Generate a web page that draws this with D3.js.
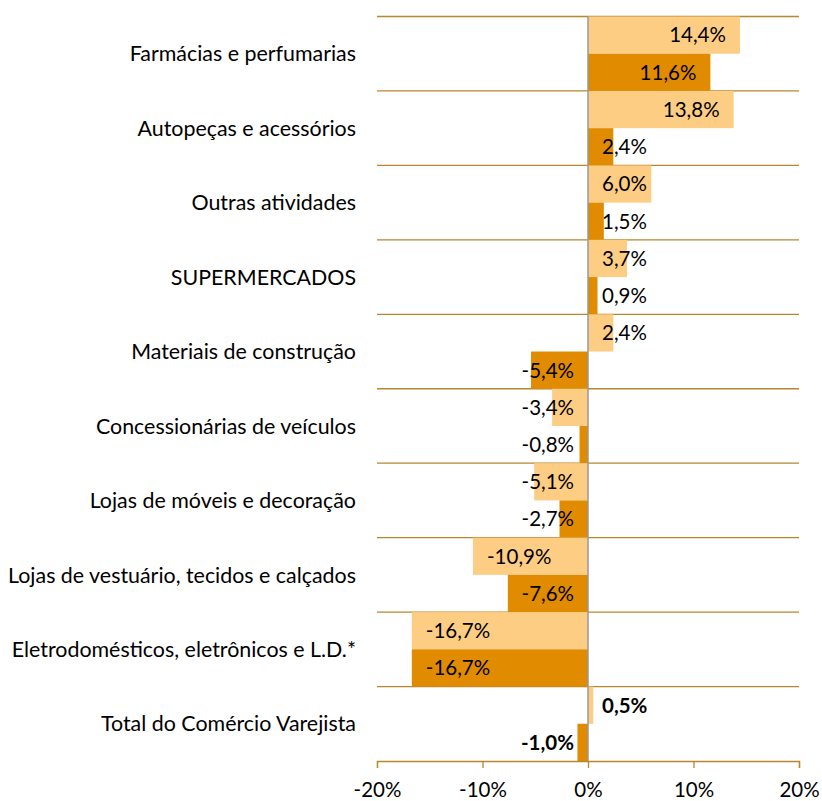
<!doctype html>
<html>
<head>
<script src="https://cdnjs.cloudflare.com/ajax/libs/d3/7.8.5/d3.min.js"></script>
<style>
body { margin: 0; background: #fff; }
text { font-family: Lato, "Open Sans", sans-serif; fill: #000; }
</style>
</head>
<body>
<svg id="chart" width="822" height="801"></svg>
<script>
var categories = ["Farmácias e perfumarias", "Autopeças e acessórios", "Outras atividades",
  "SUPERMERCADOS", "Materiais de construção", "Concessionárias de veículos",
  "Lojas de móveis e decoração", "Lojas de vestuário, tecidos e calçados",
  "Eletrodomésticos, eletrônicos e L.D.*", "Total do Comércio Varejista"];
var series1 = [14.4, 13.8, 6.0, 3.7, 2.4, -3.4, -5.1, -10.9, -16.7, 0.5];
var series2 = [11.6, 2.4, 1.5, 0.9, -5.4, -0.8, -2.7, -7.6, -16.7, -1.0];
var xTicks = [-20, -10, 0, 10, 20];

var svg = d3.select("#chart");
var plotLeft = 377, plotRight = 799, plotTop = 16.5, plotBottom = 761;
var fmt = d => d3.format(".1f")(d).replace("\u2212", "-").replace(".", ",") + "%";

var x = d3.scaleLinear().domain([-20, 20]).range([plotLeft, plotRight]);
var y = d3.scaleBand().domain(categories).range([plotTop, plotBottom]).padding(0);
var sub = d3.scaleBand().domain([0, 1]).range([0, y.bandwidth()]);

var rows = categories.map((c, i) => ({cat: c, vals: [series1[i], series2[i]], total: i == categories.length - 1}));
var colors = ["#FDCD84", "#E08B00"];
var gridColor = "#B8862C";

// gridlines at band boundaries
svg.selectAll("line.grid")
  .data(categories)
  .enter().append("line")
  .attr("class", "grid")
  .attr("x1", plotLeft).attr("x2", plotRight)
  .attr("y1", d => y(d)).attr("y2", d => y(d))
  .style("stroke", gridColor).style("stroke-width", 1.3);

var g = svg.selectAll("g.row")
  .data(rows)
  .enter().append("g")
  .attr("class", "row")
  .attr("transform", d => "translate(0," + y(d.cat) + ")");

g.selectAll("rect")
  .data(d => d.vals.map((v, j) => ({v: v, j: j, total: d.total})))
  .enter().append("rect")
  .attr("x", d => x(Math.min(0, d.v)))
  .attr("width", d => Math.abs(x(d.v) - x(0)))
  .attr("y", d => sub(d.j))
  .attr("height", sub.bandwidth())
  .style("fill", d => colors[d.j]);

// labels sit inside the bar end, but never closer than 14px to the zero line
g.selectAll("text.val")
  .data(d => d.vals.map((v, j) => ({v: v, j: j, total: d.total})))
  .enter().append("text")
  .attr("class", "val")
  .attr("y", d => sub(d.j) + sub.bandwidth() / 2)
  .attr("dy", "0.36em")
  .style("font-size", "20.5px")
  .style("font-weight", d => d.total ? "bold" : "normal")
  .text(d => fmt(d.v))
  .each(function(d) {
    var tw = this.getComputedTextLength();
    var xs;
    if (d.v >= 0) {
      xs = Math.max(x(d.v) - 14 - tw, x(0) + 14);
    } else {
      xs = Math.min(x(d.v) + 14, x(0) - 14 - tw);
    }
    d3.select(this).attr("x", xs);
  });

// category labels
svg.selectAll("text.cat")
  .data(categories)
  .enter().append("text")
  .attr("class", "cat")
  .attr("x", 356)
  .attr("y", d => y(d) + y.bandwidth() / 2)
  .attr("dy", "0.36em")
  .attr("text-anchor", "end")
  .style("font-size", "21.4px")
  .text(d => d);

// bottom axis
var axis = svg.append("g").attr("transform", "translate(0," + plotBottom + ")")
  .call(d3.axisBottom(x).tickValues(xTicks).tickSize(7).tickPadding(14).tickFormat(d => d + "%"));
axis.select(".domain").style("stroke", gridColor).style("stroke-width", 1.3);
axis.selectAll(".tick line").style("stroke", gridColor).style("stroke-width", 1.3);
axis.selectAll(".tick text").style("font-size", "20.5px").style("font-family", "Lato, sans-serif").style("fill", "#000");

// zero line
svg.append("line")
  .attr("x1", x(0)).attr("x2", x(0))
  .attr("y1", plotTop).attr("y2", plotBottom)
  .style("stroke", "#999").style("stroke-width", 1.5);
</script>
</body>
</html>
